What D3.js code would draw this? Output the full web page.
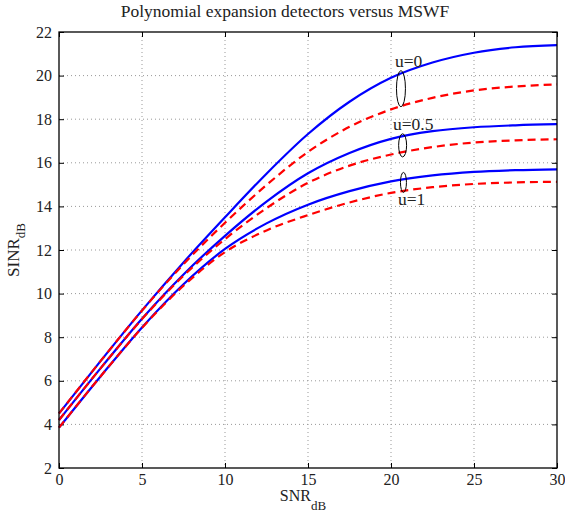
<!DOCTYPE html>
<html>
<head>
<meta charset="utf-8">
<script src="https://cdn.jsdelivr.net/npm/d3@7"></script>
<style>
  body { margin: 0; background: #fff; }
  text { font-family: "Liberation Serif", "DejaVu Serif", serif; fill: #222; }
</style>
</head>
<body>
<div id="chart"></div>
<script>
var svgWidth = 565;
var svgHeight = 513;

var margin = { top: 32, right: 8, bottom: 45, left: 59 };

var width = svgWidth - margin.left - margin.right;
var height = svgHeight - margin.top - margin.bottom;

// SNR points (dB)
var snr = [0, 2.5, 5, 7.5, 10, 12.5, 15, 17.5, 20, 22.5, 25, 27.5, 30];

// solid blue curves
var blueU0  = [4.5, 6.9, 9.23, 11.43, 13.5, 15.5, 17.32, 18.8, 19.9, 20.6, 21.05, 21.3, 21.4];
var blueU05 = [4.2, 6.57, 8.85, 10.88, 12.65, 14.22, 15.52, 16.45, 17.1, 17.45, 17.63, 17.72, 17.77];
var blueU1  = [3.85, 6.2, 8.45, 10.43, 12.05, 13.22, 14.08, 14.7, 15.15, 15.42, 15.58, 15.66, 15.7];

// dashed red curves
var redU0  = [4.5, 6.9, 9.22, 11.35, 13.25, 14.98, 16.5, 17.65, 18.45, 18.98, 19.32, 19.5, 19.6];
var redU05 = [4.2, 6.57, 8.83, 10.82, 12.5, 13.92, 15.08, 15.87, 16.38, 16.72, 16.93, 17.03, 17.08];
var redU1  = [3.85, 6.2, 8.43, 10.36, 11.9, 12.9, 13.6, 14.18, 14.62, 14.88, 15.03, 15.1, 15.13];

var xTicks = [0, 5, 10, 15, 20, 25, 30];
var yTicks = [2, 4, 6, 8, 10, 12, 14, 16, 18, 20, 22];

// annotation groups: label, ellipse centre (x, y), half sizes, label position
var labels = ["u=0", "u=0.5", "u=1"];
var ellX = [20.6, 20.7, 20.75];
var ellY = [19.4, 16.8, 15.1];
var ellRy = [0.83, 0.53, 0.46];
var ellRx = [0.27, 0.24, 0.18];
var labX = [20.24, 20.12, 20.42];
var labY = [20.41, 17.5, 14.06];

var svg = d3.select("#chart")
  .append("svg")
  .attr("width", svgWidth)
  .attr("height", svgHeight);

var chartGroup = svg.append("g")
  .attr("transform", `translate(${margin.left}, ${margin.top})`);

var x = d3.scaleLinear().domain([0, 30]).range([0, width]);
var y = d3.scaleLinear().domain([2, 22]).range([height, 0]);

// grid
chartGroup.append("g")
  .selectAll("line")
  .data(xTicks.slice(1, -1))
  .enter().append("line")
  .attr("x1", d => x(d)).attr("x2", d => x(d))
  .attr("y1", 0).attr("y2", height)
  .attr("stroke", "#999").attr("stroke-width", 1)
  .attr("stroke-dasharray", "1,3");

chartGroup.append("g")
  .selectAll("line")
  .data(yTicks.slice(1, -1))
  .enter().append("line")
  .attr("y1", d => y(d)).attr("y2", d => y(d))
  .attr("x1", 0).attr("x2", width)
  .attr("stroke", "#999").attr("stroke-width", 1)
  .attr("stroke-dasharray", "1,3");

// axes with inward ticks
var bottomAxis = d3.axisBottom(x).tickValues(xTicks).tickSize(-5).tickPadding(6);
var leftAxis = d3.axisLeft(y).tickValues(yTicks).tickSize(-5).tickPadding(7);
var topAxis = d3.axisTop(x).tickValues(xTicks).tickSize(-5).tickFormat("");
var rightAxis = d3.axisRight(y).tickValues(yTicks).tickSize(-5).tickFormat("");

function styleAxis(g) {
  g.select(".domain").remove();
  g.selectAll("line").attr("stroke", "#000");
  g.selectAll("text").style("font-family", "'Liberation Serif', serif")
    .style("font-size", "16px").attr("fill", "#222");
}

chartGroup.append("g").attr("transform", `translate(0, ${height})`).call(bottomAxis).call(styleAxis);
chartGroup.append("g").call(leftAxis).call(styleAxis);
chartGroup.append("g").call(topAxis).call(styleAxis);
chartGroup.append("g").attr("transform", `translate(${width}, 0)`).call(rightAxis).call(styleAxis);

// curves
var line = d3.line()
  .x(d => x(d[0]))
  .y(d => y(d[1]))
  .curve(d3.curveMonotoneX);

var blues = [blueU0, blueU05, blueU1];
var reds = [redU0, redU05, redU1];

blues.forEach(function(vals) {
  chartGroup.append("path")
    .datum(snr.map((s, i) => [s, vals[i]]))
    .attr("d", line)
    .attr("fill", "none")
    .attr("stroke", "#0000ff")
    .attr("stroke-width", 2.2);
});

reds.forEach(function(vals) {
  chartGroup.append("path")
    .datum(snr.map((s, i) => [s, vals[i]]))
    .attr("d", line)
    .attr("fill", "none")
    .attr("stroke", "#ff0000")
    .attr("stroke-width", 2.2)
    .attr("stroke-dasharray", "8,5");
});

// frame
chartGroup.append("rect")
  .attr("width", width).attr("height", height)
  .attr("fill", "none").attr("stroke", "#000").attr("stroke-width", 1.3);

// annotations
labels.forEach(function(lab, i) {
  chartGroup.append("ellipse")
    .attr("cx", x(ellX[i]))
    .attr("cy", y(ellY[i]))
    .attr("rx", x(ellRx[i]) - x(0))
    .attr("ry", y(0) - y(ellRy[i]))
    .attr("fill", "none")
    .attr("stroke", "#000")
    .attr("stroke-width", 1);
  chartGroup.append("text")
    .attr("x", x(labX[i]))
    .attr("y", y(labY[i]))
    .style("font-size", "17.5px")
    .text(lab);
});

// title
svg.append("text")
  .attr("x", 285)
  .attr("y", 17)
  .attr("text-anchor", "middle")
  .style("font-size", "17.5px")
  .text("Polynomial expansion detectors versus MSWF");

// x label
var xl = svg.append("text")
  .attr("x", 303)
  .attr("y", 501)
  .attr("text-anchor", "middle")
  .style("font-size", "16px");
xl.append("tspan").text("SNR");
xl.append("tspan").attr("dy", 9).style("font-size", "13px").text("dB");

// y label
var yl = svg.append("text")
  .attr("transform", `translate(19, ${margin.top + height / 2}) rotate(-90)`)
  .attr("text-anchor", "middle")
  .style("font-size", "17px");
yl.append("tspan").text("SINR");
yl.append("tspan").attr("dy", 6).style("font-size", "13px").text("dB");
</script>
</body>
</html>
